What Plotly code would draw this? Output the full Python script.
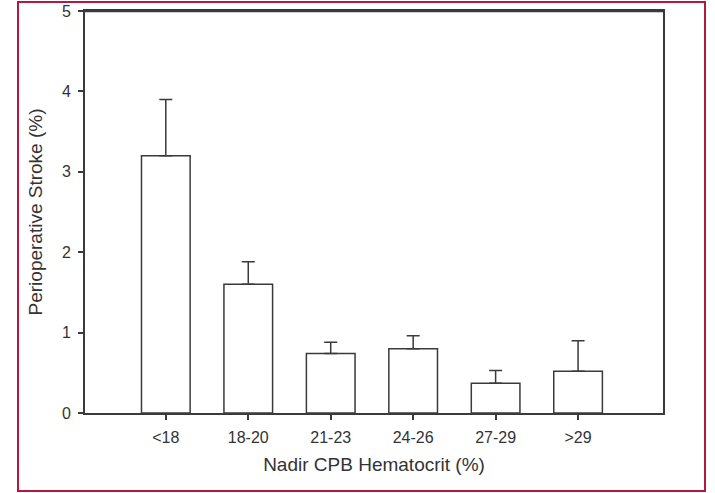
import plotly.graph_objects as go

# Perioperative stroke rate by nadir CPB hematocrit group
categories = ["<18", "18-20", "21-23", "24-26", "27-29", ">29"]
stroke_pct = [3.20, 1.60, 0.74, 0.80, 0.37, 0.52]
stroke_err = [0.70, 0.28, 0.14, 0.16, 0.16, 0.38]
y_ticks = [0, 1, 2, 3, 4, 5]

W, H = 715, 493
ML, MR, MT, MB = 85, 52, 11, 80
pw = W - ML - MR
ph = H - MT - MB

fig = go.Figure()
fig.add_trace(go.Bar(
    x=list(range(len(categories))),
    y=stroke_pct,
    width=0.59,
    marker=dict(color="white", line=dict(color="#3a3a3a", width=1.5)),
    error_y=dict(type="data", array=stroke_err, arrayminus=[0] * len(stroke_err),
                 symmetric=False, color="#3a3a3a", thickness=1.5, width=6.5),
    showlegend=False,
))

axis_font = dict(family="Liberation Sans, Arial, sans-serif", size=16, color="#333333")
title_font = dict(family="Liberation Sans, Arial, sans-serif", size=19, color="#333333")

fig.update_xaxes(
    range=[-0.98, 6.03], automargin=False,
    tickmode="array", tickvals=list(range(len(categories))), ticktext=categories,
    ticks="outside", ticklen=5, tickwidth=1.5, tickcolor="#3a3a3a",
    ticklabelstandoff=4,
    showline=True, linecolor="#3a3a3a", linewidth=1.8, mirror=True,
    showgrid=False, zeroline=False, tickfont=axis_font,
    title=dict(text="Nadir CPB Hematocrit (%)", font=title_font, standoff=13),
)
fig.update_yaxes(
    range=[0, 5], automargin=False,
    tickmode="array", tickvals=y_ticks, ticktext=[str(v) for v in y_ticks],
    ticks="outside", ticklen=5, tickwidth=1.5, tickcolor="#3a3a3a",
    ticklabelstandoff=4,
    showline=True, linecolor="#3a3a3a", linewidth=1.8, mirror=True,
    showgrid=False, zeroline=False, tickfont=axis_font,
    title=dict(text="Perioperative Stroke (%)", font=title_font, standoff=14),
)

# Thicker top frame line
fig.add_shape(type="line", xref="paper", yref="paper", x0=0, x1=1, y0=1, y1=1,
              line=dict(color="#3a3a3a", width=2.5))

# Crimson outer frame around the whole figure
def px_x(p):
    return (p - ML) / pw

def px_y(p):
    return (H - MB - p) / ph

fig.add_shape(type="rect", xref="paper", yref="paper",
              x0=px_x(18), x1=px_x(705), y0=px_y(491), y1=px_y(2),
              line=dict(color="#b5173f", width=2), fillcolor="rgba(0,0,0,0)",
              layer="above")

fig.update_layout(
    width=W, height=H,
    margin=dict(l=ML, r=MR, t=MT, b=MB, autoexpand=False),
    paper_bgcolor="white", plot_bgcolor="white",
    bargap=0.4,
)

fig.write_html("out.html")
